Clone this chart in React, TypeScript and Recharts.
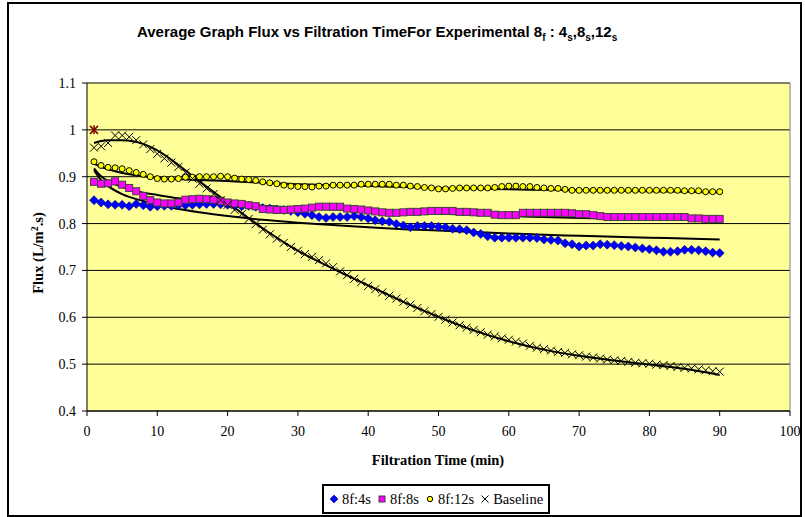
import React from 'react';
import { ComposedChart, Scatter, Line, XAxis, YAxis, CartesianGrid, ReferenceLine } from 'recharts';

// filtration time, minutes 1..90
const minutes = Array.from({ length: 90 }, (_, i) => i + 1);

const flux4s = [
  0.850, 0.845, 0.841, 0.840, 0.840, 0.837, 0.842, 0.839, 0.836, 0.837,
  0.838, 0.838, 0.839, 0.839, 0.840, 0.841, 0.842, 0.842, 0.841, 0.840,
  0.838, 0.837, 0.838, 0.836, 0.833, 0.832, 0.830, 0.829, 0.827, 0.824,
  0.821, 0.818, 0.814, 0.812, 0.814, 0.814, 0.814, 0.816, 0.814, 0.811,
  0.807, 0.805, 0.804, 0.799, 0.796, 0.792, 0.795, 0.795, 0.795, 0.793,
  0.792, 0.789, 0.788, 0.786, 0.781, 0.778, 0.773, 0.770, 0.770, 0.770,
  0.770, 0.770, 0.770, 0.769, 0.766, 0.765, 0.764, 0.758, 0.756, 0.751,
  0.753, 0.753, 0.756, 0.755, 0.754, 0.752, 0.751, 0.749, 0.747, 0.745,
  0.743, 0.740, 0.740, 0.741, 0.744, 0.744, 0.743, 0.741, 0.738, 0.737,
];

const flux8s = [
  0.889, 0.885, 0.886, 0.890, 0.883, 0.876, 0.869, 0.859, 0.850, 0.845,
  0.843, 0.843, 0.845, 0.851, 0.852, 0.853, 0.852, 0.851, 0.848, 0.845,
  0.843, 0.842, 0.839, 0.837, 0.831, 0.830, 0.829, 0.829, 0.830, 0.831,
  0.832, 0.834, 0.836, 0.836, 0.836, 0.836, 0.832, 0.831, 0.830, 0.828,
  0.826, 0.824, 0.823, 0.823, 0.824, 0.825, 0.825, 0.826, 0.827, 0.827,
  0.827, 0.827, 0.825, 0.825, 0.824, 0.823, 0.823, 0.819, 0.818, 0.818,
  0.818, 0.823, 0.823, 0.823, 0.823, 0.823, 0.823, 0.823, 0.822, 0.820,
  0.820, 0.818, 0.816, 0.814, 0.814, 0.814, 0.814, 0.814, 0.814, 0.814,
  0.814, 0.814, 0.814, 0.814, 0.814, 0.811, 0.811, 0.810, 0.810, 0.810,
];

const flux12s = [
  0.932, 0.924, 0.920, 0.919, 0.917, 0.913, 0.909, 0.905, 0.900, 0.896,
  0.895, 0.895, 0.896, 0.899, 0.899, 0.900, 0.900, 0.900, 0.901, 0.900,
  0.897, 0.895, 0.894, 0.892, 0.889, 0.887, 0.885, 0.882, 0.880, 0.879,
  0.879, 0.878, 0.880, 0.880, 0.882, 0.882, 0.882, 0.882, 0.884, 0.884,
  0.884, 0.884, 0.884, 0.882, 0.882, 0.880, 0.879, 0.877, 0.876, 0.874,
  0.874, 0.875, 0.876, 0.876, 0.876, 0.876, 0.876, 0.877, 0.879, 0.880,
  0.880, 0.879, 0.879, 0.877, 0.876, 0.875, 0.875, 0.873, 0.871, 0.871,
  0.871, 0.871, 0.871, 0.871, 0.871, 0.871, 0.871, 0.871, 0.871, 0.871,
  0.871, 0.871, 0.871, 0.871, 0.870, 0.870, 0.870, 0.868, 0.868, 0.868,
];

const fluxBaseline = [
  0.962, 0.965, 0.972, 0.988, 0.988, 0.985, 0.978, 0.969, 0.959, 0.949,
  0.939, 0.930, 0.921, 0.909, 0.896, 0.885, 0.875, 0.863, 0.850, 0.840,
  0.829, 0.820, 0.810, 0.799, 0.787, 0.777, 0.768, 0.759, 0.750, 0.742,
  0.735, 0.729, 0.722, 0.715, 0.707, 0.698, 0.690, 0.682, 0.675, 0.667,
  0.660, 0.653, 0.646, 0.640, 0.633, 0.627, 0.620, 0.613, 0.607, 0.601,
  0.595, 0.589, 0.583, 0.578, 0.573, 0.568, 0.563, 0.559, 0.555, 0.552,
  0.548, 0.544, 0.539, 0.535, 0.532, 0.529, 0.526, 0.524, 0.521, 0.519,
  0.516, 0.514, 0.512, 0.510, 0.508, 0.507, 0.505, 0.503, 0.502, 0.501,
  0.499, 0.498, 0.496, 0.494, 0.492, 0.491, 0.489, 0.487, 0.485, 0.484,
];

// trend lines at a few minutes
const trendMinutes = [1, 2, 3, 5, 8, 10, 13, 16, 20, 25, 30, 35, 40, 45, 50, 55, 60, 65, 70, 75, 80, 85, 90];
const trendBaseline = [0.972, 0.976, 0.978, 0.978, 0.970, 0.956, 0.925, 0.890, 0.845, 0.790, 0.742, 0.704, 0.668, 0.633, 0.601, 0.572, 0.549, 0.531, 0.518, 0.508, 0.499, 0.490, 0.477];
const trend4s = [0.914, 0.893, 0.880, 0.863, 0.848, 0.840, 0.831, 0.824, 0.816, 0.808, 0.802, 0.797, 0.792, 0.788, 0.785, 0.782, 0.779, 0.776, 0.774, 0.772, 0.770, 0.768, 0.766];
const trend8s = [0.918, 0.901, 0.891, 0.878, 0.866, 0.861, 0.854, 0.849, 0.844, 0.838, 0.834, 0.830, 0.827, 0.824, 0.821, 0.819, 0.816, 0.814, 0.812, 0.811, 0.809, 0.808, 0.806];
const trend12s = [0.928, 0.921, 0.916, 0.908, 0.901, 0.898, 0.895, 0.893, 0.891, 0.887, 0.884, 0.882, 0.880, 0.878, 0.876, 0.875, 0.873, 0.872, 0.871, 0.870, 0.869, 0.868, 0.867];

const startPoint = [{ t: 1, v: 1.0 }];

const xTicks = [0, 10, 20, 30, 40, 50, 60, 70, 80, 90, 100];
const yTicks = [0.4, 0.5, 0.6, 0.7, 0.8, 0.9, 1.0, 1.1];

const rows: any[] = minutes.map((t, i) => ({
  t,
  s4: flux4s[i],
  s8: flux8s[i],
  s12: flux12s[i],
  base: fluxBaseline[i],
}));
trendMinutes.forEach((t, i) => {
  const r = rows[t - 1];
  r.trBase = trendBaseline[i];
  r.tr4 = trend4s[i];
  r.tr8 = trend8s[i];
  r.tr12 = trend12s[i];
});

const serif = "'Liberation Serif', 'DejaVu Serif', serif";
const sans = "'Liberation Sans', Arial, sans-serif";

const Diamond = ({ cx, cy }: any) => (
  <polygon
    points={`${cx},${cy - 4.5} ${cx + 4.5},${cy} ${cx},${cy + 4.5} ${cx - 4.5},${cy}`}
    fill="#0000FF"
    stroke="#000080"
    strokeWidth={0.6}
  />
);

const Square = ({ cx, cy }: any) => (
  <rect x={cx - 3.5} y={cy - 3.5} width={7} height={7} fill="#FF00FF" stroke="#404040" strokeWidth={1} />
);

const Dot = ({ cx, cy }: any) => (
  <circle cx={cx} cy={cy} r={3} fill="#FFFF00" stroke="#000" strokeWidth={1} />
);

const Cross = ({ cx, cy }: any) => (
  <g stroke="#000" strokeWidth={1}>
    <line x1={cx - 4} y1={cy - 4} x2={cx + 4} y2={cy + 4} />
    <line x1={cx - 4} y1={cy + 4} x2={cx + 4} y2={cy - 4} />
  </g>
);

const Star = ({ cx, cy }: any) => (
  <g stroke="#800000" strokeWidth={1.5}>
    <line x1={cx - 4} y1={cy - 4} x2={cx + 4} y2={cy + 4} />
    <line x1={cx - 4} y1={cy + 4} x2={cx + 4} y2={cy - 4} />
    <line x1={cx} y1={cy - 4.5} x2={cx} y2={cy + 4.5} />
  </g>
);

const legendItems = [
  { label: '8f:4s', icon: <polygon points="5,1 9,5 5,9 1,5" fill="#0000FF" stroke="#000080" strokeWidth={0.6} /> },
  { label: '8f:8s', icon: <rect x={2} y={2} width={6} height={6} fill="#FF00FF" stroke="#404040" /> },
  { label: '8f:12s', icon: <circle cx={5} cy={5} r={2.7} fill="#FFFF00" stroke="#000" /> },
  {
    label: 'Baseline',
    icon: (
      <g stroke="#000" strokeWidth={1}>
        <line x1={1.5} y1={1.5} x2={8.5} y2={8.5} />
        <line x1={1.5} y1={8.5} x2={8.5} y2={1.5} />
      </g>
    ),
  },
];

export default function App() {
  return (
    <div style={{ position: 'relative', width: 805, height: 517, background: '#fff' }}>
      <style>{'body{margin:0}'}</style>
      <div
        style={{
          position: 'absolute',
          left: 7,
          top: 2,
          width: 791,
          height: 511,
          border: '2px solid #000',
        }}
      />
      <div
        style={{
          position: 'absolute',
          left: 137,
          top: 23,
          fontFamily: sans,
          fontWeight: 'bold',
          fontSize: 15,
          lineHeight: '17px',
          whiteSpace: 'nowrap',
        }}
      >
        Average Graph Flux vs Filtration TimeFor Experimental 8<sub style={{ fontSize: 10 }}>f</sub> : 4
        <sub style={{ fontSize: 10 }}>s</sub>,8<sub style={{ fontSize: 10 }}>s</sub>,12
        <sub style={{ fontSize: 10 }}>s</sub>
      </div>

      <ComposedChart
        width={805}
        height={517}
        data={rows}
        margin={{ top: 83, right: 15, bottom: 76, left: 0 }}
        style={{ position: 'absolute', left: 0, top: 0 }}
      >
        <CartesianGrid vertical={false} stroke="#000" fill="#FFFF99" fillOpacity={1} />
        <XAxis
          type="number"
          dataKey="t"
          domain={[0, 100]}
          ticks={xTicks}
          height={30}
          tickSize={5}
          tickMargin={10}
          axisLine={{ stroke: '#000' }}
          tickLine={{ stroke: '#000' }}
          tick={{ fill: '#000', fontFamily: serif, fontSize: 14 }}
          allowDataOverflow
        />
        <YAxis
          type="number"
          domain={[0.4, 1.1]}
          ticks={yTicks}
          width={87}
          tickSize={5}
          tickMargin={6}
          tickFormatter={(v: number) => (v === 1 ? '1' : v.toFixed(1))}
          axisLine={{ stroke: '#000' }}
          tickLine={{ stroke: '#000' }}
          tick={{ fill: '#000', fontFamily: serif, fontSize: 14 }}
          allowDataOverflow
        />
        <ReferenceLine x={100} stroke="#808080" />
        <Scatter dataKey="s4" shape={Diamond} isAnimationActive={false} />
        <Scatter dataKey="s8" shape={Square} isAnimationActive={false} />
        <Scatter dataKey="s12" shape={Dot} isAnimationActive={false} />
        <Scatter dataKey="base" shape={Cross} isAnimationActive={false} />
        <Scatter data={startPoint} dataKey="v" shape={Star} isAnimationActive={false} />
        <Line dataKey="trBase" type="monotone" connectNulls dot={false} stroke="#000" strokeWidth={2} isAnimationActive={false} />
        <Line dataKey="tr4" type="monotone" connectNulls dot={false} stroke="#000" strokeWidth={2} isAnimationActive={false} />
        <Line dataKey="tr8" type="monotone" connectNulls dot={false} stroke="#000" strokeWidth={2} isAnimationActive={false} />
        <Line dataKey="tr12" type="monotone" connectNulls dot={false} stroke="#000" strokeWidth={2} isAnimationActive={false} />
      </ComposedChart>

      <div
        style={{
          position: 'absolute',
          left: 38,
          top: 253,
          transform: 'translate(-50%, -50%) rotate(-90deg)',
          fontFamily: serif,
          fontWeight: 'bold',
          fontSize: 14.5,
          whiteSpace: 'nowrap',
        }}
      >
        Flux (L/m<sup style={{ fontSize: 10 }}>2</sup>.s)
      </div>
      <div
        style={{
          position: 'absolute',
          left: 438,
          top: 452,
          transform: 'translateX(-50%)',
          fontFamily: serif,
          fontWeight: 'bold',
          fontSize: 14.5,
          whiteSpace: 'nowrap',
        }}
      >
        Filtration Time (min)
      </div>

      <div
        style={{
          position: 'absolute',
          left: 322,
          top: 484,
          width: 224,
          height: 26,
          border: '2px solid #000',
          display: 'flex',
          alignItems: 'center',
          justifyContent: 'center',
          gap: 6,
          fontFamily: serif,
          fontSize: 14.5,
          background: '#fff',
        }}
      >
        {legendItems.map((it) => (
          <span key={it.label} style={{ display: 'flex', alignItems: 'center', gap: 3 }}>
            <svg width={10} height={10}>{it.icon}</svg>
            {it.label}
          </span>
        ))}
      </div>
    </div>
  );
}
